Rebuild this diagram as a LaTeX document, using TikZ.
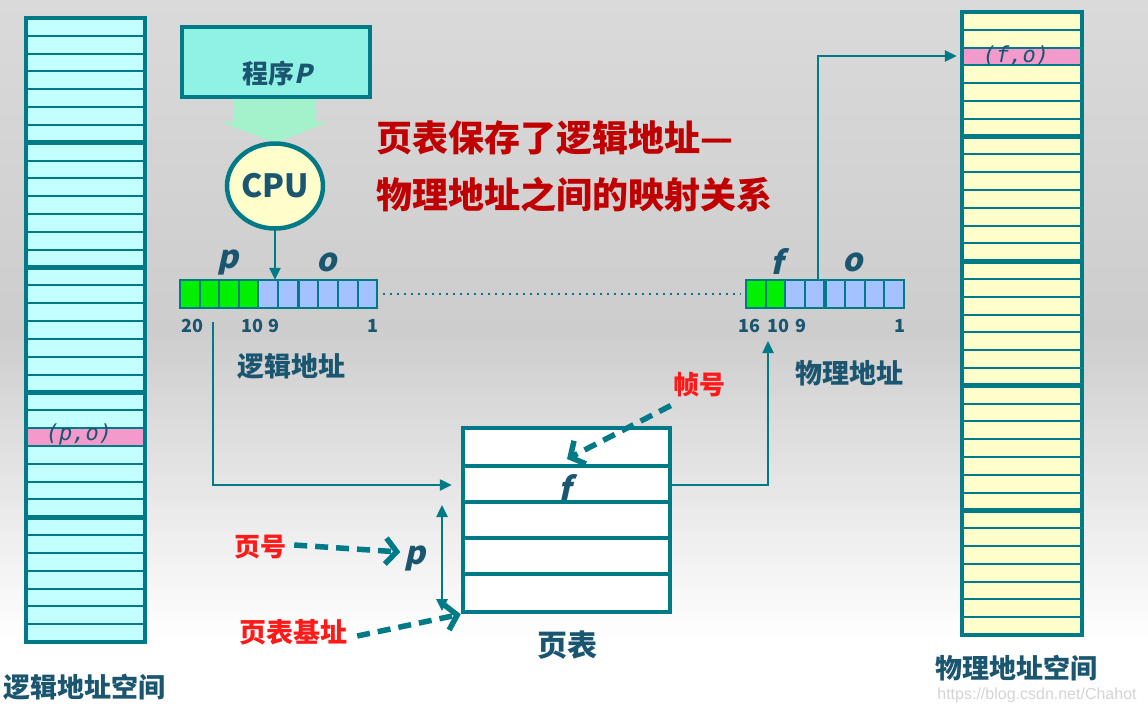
\documentclass[tikz,border=0pt]{standalone}
\usepackage{fontspec}
\setmainfont{Noto Sans}
\newfontfamily\cjk{Noto Sans CJK SC}
\newfontfamily\cjkit{Noto Sans CJK SC}[FakeSlant=0.22]
\newfontfamily\monof{DejaVu Sans Mono}
\newfontfamily\wmfont{Liberation Sans}
\usetikzlibrary{arrows.meta,shapes.geometric}
\definecolor{teal1}{HTML}{007A87}
\definecolor{txt}{HTML}{1B5670}
\definecolor{cyanF}{HTML}{C4FFFF}
\definecolor{yelF}{HTML}{FFFFCC}
\definecolor{pinkF}{HTML}{F29ACB}
\definecolor{progF}{HTML}{90F2E4}
\definecolor{mint}{HTML}{A4F2CC}
\definecolor{grn}{HTML}{00F000}
\definecolor{blu}{HTML}{A4C2FF}
\definecolor{redT}{HTML}{C00000}
\definecolor{redL}{HTML}{FF1A1A}
\definecolor{bgTop}{HTML}{DADADA}
\definecolor{bgMid}{HTML}{CDCDCD}
\tikzset{
  conn/.style={draw=teal1, line width=2.5pt, -{Triangle[length=12pt,width=11pt]}},
  dconn/.style={draw=teal1, line width=2.5pt, {Triangle[length=12pt,width=11pt]}-{Triangle[length=12pt,width=11pt]}},
  dasharrow/.style={draw=teal1, line width=5.5pt, dash pattern=on 13pt off 8pt, -{Straight Barb[length=11pt,width=26pt]}},
  cjklabel/.style={font=\cjk\bfseries\fontsize{27}{30}\selectfont, text=txt, inner sep=0pt},
  redlabel/.style={font=\cjk\bfseries\fontsize{26}{30}\selectfont, text=redL, inner sep=0pt},
  numlabel/.style={font=\cjk\bfseries\fontsize{18}{20}\selectfont, text=txt, inner sep=0pt},
  varlabel/.style={font=\cjkit\bfseries\fontsize{32}{34}\selectfont, text=txt, inner sep=0pt},
  cell/.style={draw=teal1, line width=2pt},
  memtext/.style={font=\monof\itshape\fontsize{22}{24}\selectfont, text=txt, inner sep=0pt},
}
\begin{document}
\begin{tikzpicture}[x=1pt,y=-1pt]
\useasboundingbox (0,0) rectangle (1148,713);
% background
\shade[top color=bgTop, bottom color=bgMid] (0,0) rectangle (1148,330);
\shade[top color=bgMid, bottom color=white] (0,330) rectangle (1148,640);
\fill[white] (0,640) rectangle (1148,713);

% ---------- logical memory (left) ----------
\node[minimum width=119pt, minimum height=624pt, inner sep=0pt] (memL) at (85.5,330) {};
\fill[cyanF] (memL.north west) rectangle (memL.south east);
\fill[pinkF] (26,{18+23*17.829}) rectangle (145,{18+24*17.829});
\foreach \i in {1,...,34}{
  \pgfmathtruncatemacro\m{mod(\i,7)}
  \ifnum\m=0
    \draw[teal1, line width=5pt] (26,{18+\i*17.829}) -- (145,{18+\i*17.829});
  \else
    \draw[teal1, line width=2pt] (26,{18+\i*17.829}) -- (145,{18+\i*17.829});
  \fi
}
\draw[teal1, line width=4.5pt] (memL.north west) rectangle (memL.south east);
\node[memtext] (po) at (79,434) {(p,o)};

% ---------- physical memory (right) ----------
\node[minimum width=120pt, minimum height=623pt, inner sep=0pt] (memR) at (1022,323.5) {};
\fill[yelF] (memR.north west) rectangle (memR.south east);
\fill[pinkF] (962,{12+2*17.8}) rectangle (1082,{12+3*17.8});
\foreach \i in {1,...,34}{
  \pgfmathtruncatemacro\m{mod(\i,7)}
  \ifnum\m=0
    \draw[teal1, line width=5pt] (962,{12+\i*17.8}) -- (1082,{12+\i*17.8});
  \else
    \draw[teal1, line width=2pt] (962,{12+\i*17.8}) -- (1082,{12+\i*17.8});
  \fi
}
\draw[teal1, line width=4.5pt] (memR.north west) rectangle (memR.south east);
\node[memtext] (fo) at (1016,56) {(f,o)};

% ---------- program and CPU ----------
\node[draw=teal1, line width=4pt, fill=progF, minimum width=188pt, minimum height=70pt, inner sep=0pt] (prog) at (276,62) {};
\node[font=\cjk\bfseries\fontsize{26}{30}\selectfont, text=txt, inner sep=0pt] (progtxt) at (277,74) {程序{\cjkit\bfseries P}};
\fill[mint] (233,99) -- (316,99) -- (316,122) -- (328,122) -- (275,143) -- (221,122) -- (233,122) -- cycle;
\node[ellipse, draw=teal1, line width=4.5pt, fill=yelF, minimum width=96pt, minimum height=85pt, inner sep=0pt,
      font=\cjk\bfseries\fontsize{32}{36}\selectfont, text=txt] (cpu) at (275,186) {CPU};

% ---------- title ----------
\node[anchor=west, font=\cjk\bfseries\fontsize{36}{40}\selectfont, text=redT, inner sep=0pt] (title1) at (376,138) {页表保存了逻辑地址—};
\node[anchor=west, font=\cjk\bfseries\fontsize{36}{40}\selectfont, text=redT, inner sep=0pt] (title2) at (376,195) {物理地址之间的映射关系};

% ---------- logical address ----------
\node[minimum width=197pt, minimum height=28pt, inner sep=0pt] (la) at (278.6,294) {};
\foreach \i in {0,...,5}{
  \ifnum\i<4 \def\cc{grn}\else\def\cc{blu}\fi
  \filldraw[cell, fill=\cc] ({180+\i*19.6},280) rectangle ({180+(\i+1)*19.6},308);
}
\foreach \i in {0,...,3}{
  \filldraw[cell, fill=blu] ({298.8+\i*19.6},280) rectangle ({298.8+(\i+1)*19.6},308);
}
\node[varlabel] (pL) at (228,262) {p};
\node[varlabel] (oL) at (327,262) {o};
\node[numlabel] (n20) at (192,326) {20};
\node[numlabel] (n10a) at (252,326) {10};
\node[numlabel] (n9a) at (274,326) {9};
\node[numlabel] (n1a) at (373,326) {1};
\node[cjklabel] (lalab) at (291,366) {逻辑地址};

% ---------- physical address ----------
\node[minimum width=158pt, minimum height=28pt, inner sep=0pt] (pa) at (825,294) {};
\foreach \i in {0,...,3}{
  \ifnum\i<2 \def\cc{grn}\else\def\cc{blu}\fi
  \filldraw[cell, fill=\cc] ({746+\i*19.6},280) rectangle ({746+(\i+1)*19.6},308);
}
\foreach \i in {0,...,3}{
  \filldraw[cell, fill=blu] ({825.6+\i*19.6},280) rectangle ({825.6+(\i+1)*19.6},308);
}
\node[varlabel] (fP) at (777,261) {f};
\node[varlabel] (oP) at (853,262) {o};
\node[numlabel] (n16) at (749,326) {16};
\node[numlabel] (n10b) at (778,326) {10};
\node[numlabel] (n9b) at (801,326) {9};
\node[numlabel] (n1b) at (900,326) {1};
\node[cjklabel] (palab) at (849,373) {物理地址};

% dotted link between addresses
\draw[teal1, line width=2pt, dash pattern=on 2pt off 5pt] ([xshift=6pt]la.east) -- ([xshift=-5pt]pa.west);

% ---------- page table ----------
\node[draw=teal1, line width=4.5pt, fill=white, minimum width=207pt, minimum height=184pt, inner sep=0pt] (pt) at (566.5,520) {};
\foreach \y in {466,502,538,574}{
  \draw[teal1, line width=3.5pt] (pt.west |- 0,\y) -- (pt.east |- 0,\y);
}
\node[varlabel] (fT) at (565,487) {f};
\node[cjklabel, font=\cjk\bfseries\fontsize{30}{34}\selectfont] (ptlab) at (567,645) {页表};

% ---------- connectors ----------
\coordinate (cpuOut) at (274,229);
\draw[conn] (cpu.south |- cpuOut) -- (cpu.south |- la.north);
\coordinate (laOut) at (213,322);
\coordinate (rowf) at (0,485);
\draw[conn, shorten >=9pt] (laOut) |- (pt.west |- rowf);
\coordinate (paIn) at (768,341);
\draw[conn] (pt.east |- rowf) -| (paIn);
\coordinate (paOut) at (818,280);
\draw[conn, shorten >=5pt] (paOut) |- (memR.west |- fo);
\coordinate (ptBase) at (442,611);
\coordinate (prow) at (442,505);
\draw[dconn] (ptBase) -- (prow);

% ---------- red labels and dashed arrows ----------
\node[redlabel] (zhen) at (699,385) {帧号};
\draw[dasharrow] (zhen.south west) ++(-2,8) -- (567,459);
\node[redlabel] (yehao) at (260,547) {页号};
\node[varlabel] (pT) at (415,558) {p};
\draw[dasharrow] ([xshift=8pt,yshift=2pt]yehao.east) -- ([xshift=-4pt,yshift=6pt]pT.west);
\node[redlabel, font=\cjk\bfseries\fontsize{27}{30}\selectfont] (base) at (293,632) {页表基址};
\draw[dasharrow] ([xshift=10pt,yshift=-4pt]base.east) -- (pt.south west);

% ---------- captions ----------
\node[cjklabel] (lspace) at (84,687) {逻辑地址空间};
\node[cjklabel] (pspace) at (1016,668) {物理地址空间};
\node[font=\wmfont\fontsize{16}{18}\selectfont, text=black!17, inner sep=0pt] (wm) at (1037,695) {https://blog.csdn.net/Chahot};
\end{tikzpicture}
\end{document}
